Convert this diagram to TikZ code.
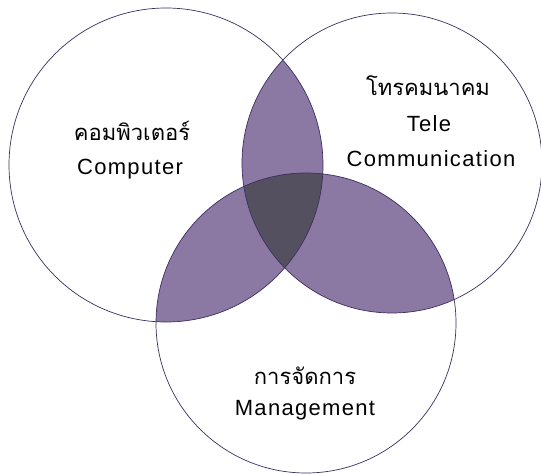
\documentclass[tikz,border=0pt]{standalone}
\usepackage{fontspec}
\setmainfont{Liberation Sans}[LetterSpace=6]
\newfontfamily\thaifont[Script=Thai]{Loma}

\definecolor{pairfill}{RGB}{139,120,163}
\definecolor{allfill}{RGB}{85,80,96}
\definecolor{ringline}{RGB}{58,48,96}

\begin{document}
\begin{tikzpicture}[
  x=1pt, y=1pt,
  ring/.style={draw=ringline, line width=0.7pt},
  pair/.style={fill=pairfill},
  core/.style={fill=allfill},
  lbl/.style={font=\fontsize{22}{26}\selectfont, inner sep=0pt},
  thlbl/.style={font=\thaifont\fontsize{22}{26}\selectfont, inner sep=0pt}
]
\useasboundingbox [fill=white] (0,0) rectangle (541,474);
\coordinate (comp) at (166,309);
\coordinate (tele) at (392,311);
\coordinate (mgmt) at (306,151);

% overlaps
\begin{scope}
  \clip (comp) circle [radius=157];
  \path [pair] (tele) circle [radius=150];
  \path [pair] (mgmt) circle [radius=150];
\end{scope}
\begin{scope}
  \clip (tele) circle [radius=150];
  \path [pair] (mgmt) circle [radius=150];
  \clip (mgmt) circle [radius=150];
  \path [core] (comp) circle [radius=157];
\end{scope}

\draw [ring] (comp) circle [radius=157];
\draw [ring] (tele) circle [radius=150];
\draw [ring] (mgmt) circle [radius=150];

\node [thlbl] (compth) at (132,343) {คอมพิวเตอร์};
\node [lbl] (compen) at (130,305) {Computer};
\node [thlbl] (teleth) at (428,388) {โทรคมนาคม};
\node [lbl] (teleen) at (429,350) {Tele};
\node [lbl] (commen) at (431,315) {Communication};
\node [thlbl] (mgmtth) at (305,98) {การจัดการ};
\node [lbl] (mgmten) at (305,64) {Management};
\end{tikzpicture}
\end{document}
